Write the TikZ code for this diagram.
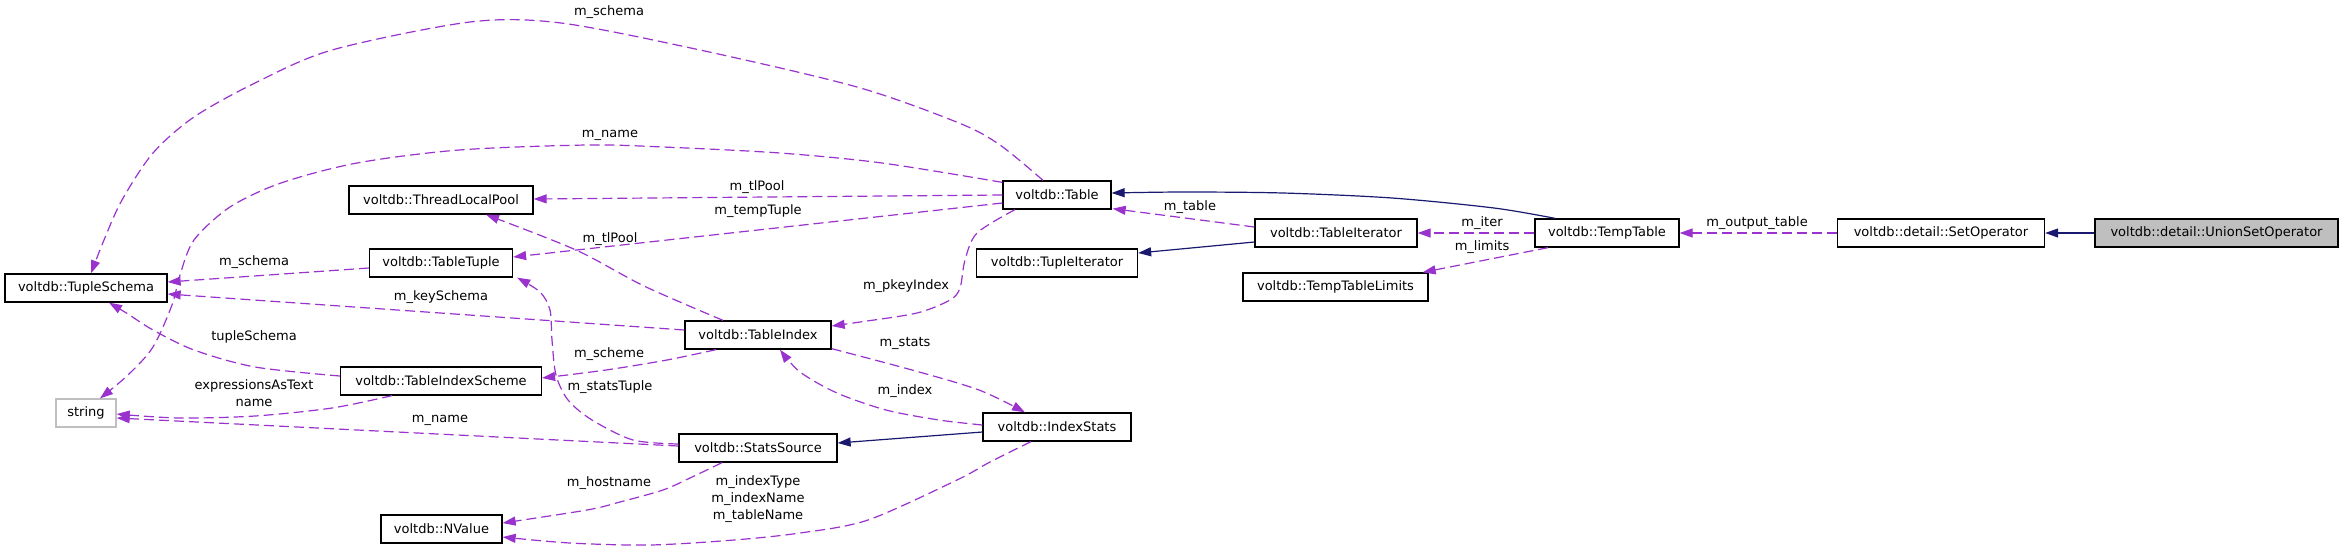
\documentclass[tikz,border=0pt]{standalone}
\usepackage{fontspec}
\setmainfont{DejaVu Sans}
\usetikzlibrary{arrows.meta,calc}
\definecolor{edgepurple}{HTML}{9A32CD}
\definecolor{inhnavy}{HTML}{191970}
\definecolor{selgray}{HTML}{BFBFBF}
\tikzset{
  cls/.style={draw=black, line width=1.3pt, fill=white, minimum height=28pt, inner sep=0pt, font=\fontsize{13}{16}\selectfont},
  usage/.style={draw=edgepurple, line width=1.2pt, dash pattern=on 10pt off 5pt, -{Triangle[length=13pt,width=9pt]}},
  inherit/.style={draw=inhnavy, line width=1.2pt, -{Triangle[length=13pt,width=9pt]}},
  lbl/.style={font=\fontsize{13}{17}\selectfont, align=center, inner sep=0pt, text=black}
}
\begin{document}
\begin{tikzpicture}[x=1pt,y=-1pt]
\fill[white] (0,0) rectangle (2344,550);
\useasboundingbox (0,0) rectangle (2344,550);

% classes
\node[cls, minimum width=162pt] (TupleSchema) at (86,288) {voltdb::TupleSchema};
\node[cls, minimum width=184pt] (ThreadLocalPool) at (441,200) {voltdb::ThreadLocalPool};
\node[cls, minimum width=143pt] (TableTuple) at (441,263) {voltdb::TableTuple};
\node[cls, draw=selgray, minimum width=60pt] (string) at (86,413) {string};
\node[cls, minimum width=201pt] (TableIndexScheme) at (441,381) {voltdb::TableIndexScheme};
\node[cls, minimum width=146pt] (TableIndex) at (758,335) {voltdb::TableIndex};
\node[cls, minimum width=158pt] (StatsSource) at (758,448) {voltdb::StatsSource};
\node[cls, minimum width=148pt] (IndexStats) at (1057,427) {voltdb::IndexStats};
\node[cls, minimum width=121pt] (NValue) at (441.5,529) {voltdb::NValue};
\node[cls, minimum width=108pt] (Table) at (1057,195) {voltdb::Table};
\node[cls, minimum width=161pt] (TupleIterator) at (1057,263) {voltdb::TupleIterator};
\node[cls, minimum width=162pt] (TableIterator) at (1336,233) {voltdb::TableIterator};
\node[cls, minimum width=185pt] (TempTableLimits) at (1335.5,287) {voltdb::TempTableLimits};
\node[cls, minimum width=144pt] (TempTable) at (1607,233) {voltdb::TempTable};
\node[cls, minimum width=207pt] (SetOperator) at (1941,233) {voltdb::detail::SetOperator};
\node[cls, fill=selgray, minimum width=243pt] (UnionSetOperator) at (2216.5,233) {voltdb::detail::UnionSetOperator};

% connector end points
\coordinate (e1s) at ($(Table.north)+(-14,0)$);
\coordinate (e1e) at ($(TupleSchema.north)+(5,0)$);
\coordinate (e2s) at ($(Table.north west)+(0,2)$);
\coordinate (e2e) at ($(string.north)+(14,0)$);
\coordinate (e5s) at ($(TableIndex.north)+(-35,0)$);
\coordinate (e5e) at ($(ThreadLocalPool.south)+(45,0)$);
\coordinate (e8s) at ($(TableIndexScheme.west)+(0,-5)$);
\coordinate (e8e) at ($(TupleSchema.south)+(23,0)$);
\coordinate (e9s) at ($(TableIndex.south)+(-42,0)$);
\coordinate (e9e) at ($(TableIndexScheme.east)+(0,-3)$);
\coordinate (e10s) at ($(TableIndexScheme.south)+(-49,0)$);
\coordinate (e10e) at ($(string.east)+(0,1)$);
\coordinate (e12s) at ($(StatsSource.west)+(0,-4)$);
\coordinate (e12e) at ($(TableTuple.south east)+(4,0)$);
\coordinate (e13s) at ($(StatsSource.south)+(-36,0)$);
\coordinate (e13e) at ($(NValue.east)+(0,-6)$);
\coordinate (e14s) at ($(IndexStats.south)+(-26,0)$);
\coordinate (e14e) at ($(NValue.east)+(0,8)$);
\coordinate (e15s) at ($(TableIndex.south east)+(0,-1)$);
\coordinate (e15e) at ($(IndexStats.north)+(-32,0)$);
\coordinate (e16s) at ($(IndexStats.west)+(0,-2)$);
\coordinate (e16e) at ($(TableIndex.south)+(22,0)$);
\coordinate (e18s) at ($(Table.south)+(-42,0)$);
\coordinate (e18e) at ($(TableIndex.east)+(0,-9)$);
\coordinate (e21s) at ($(TempTable.north)+(-52,0)$);
\coordinate (e21e) at ($(Table.east)+(0,-2)$);

% usage connectors
\draw[usage] plot[smooth] coordinates {(e1s) (1000,145) (959,123) (857,87) (700,50) (561,23) (470,22) (332,50) (255,83) (194,117) (153,153) (122,200) (104,240) (e1e)};
\node[lbl] (l1) at (609,12) {m\_schema};

\draw[usage] plot[smooth] coordinates {(e2s) (882,163) (780,153) (663,147) (587,145) (459,150) (357,163) (281,183) (230,207) (194,240) (180,275) (172,305) (153,347) (128,375) (e2e)};
\node[lbl] (l2) at (610,135) {m\_name};

\draw[usage] (Table.west) -- ($(ThreadLocalPool.east)+(0,-1)$);
\node[lbl] (l3) at (757,187) {m\_tlPool};

\draw[usage] ($(Table.west)+(0,8)$) -- ($(TableTuple.east)+(0,-6)$);
\node[lbl] (l4) at (758,211) {m\_tempTuple};

\draw[usage] plot[smooth] coordinates {(e5s) (644,286) (576,250) (e5e)};
\node[lbl] (l5) at (610,239) {m\_tlPool};

\draw[usage] ($(TableIndex.west)+(0,-5)$) -- ($(TupleSchema.east)+(0,6)$);
\node[lbl] (l6) at (441,297) {m\_keySchema};

\draw[usage] ($(TableTuple.west)+(0,5)$) -- ($(TupleSchema.east)+(0,-6)$);
\node[lbl] (l7) at (254,262) {m\_schema};

\draw[usage] plot[smooth] coordinates {(e8s) (255,367) (194,350) (153,330) (128,314) (e8e)};
\node[lbl] (l8) at (254,337) {tupleSchema};

\draw[usage] plot[smooth] coordinates {(e9s) (667,360) (606,370) (e9e)};
\node[lbl] (l9) at (609,354) {m\_scheme};

\draw[usage] plot[smooth] coordinates {(e10s) (332,408) (255,416) (179,418) (e10e)};
\node[lbl] (l10) at (254,393) {expressionsAsText\\name};

\draw[usage] ($(StatsSource.west)+(0,-2)$) -- ($(string.east)+(0,5)$);
\node[lbl] (l11) at (440,420) {m\_name};

\draw[usage] plot[smooth] coordinates {(e12s) (633,440) (592,420) (568,400) (556,375) (552,340) (550,310) (540,292) (e12e)};
\node[lbl] (l12) at (610,387) {m\_statsTuple};

\draw[usage] plot[smooth] coordinates {(e13s) (690,478) (663,490) (620,502) (587,510) (e13e)};
\node[lbl] (l13) at (609,483) {m\_hostname};

\draw[usage] plot[smooth] coordinates {(e14s) (990,462) (957,480) (868,520) (800,533) (734,540) (650,545) (570,543) (e14e)};
\node[lbl] (l14) at (758,499) {m\_indexType\\m\_indexName\\m\_tableName};

\draw[usage] plot[smooth] coordinates {(e15s) (912,370) (979,390) (e15e)};
\node[lbl] (l15) at (905,343) {m\_stats};

\draw[usage] plot[smooth] coordinates {(e16s) (939,420) (886,410) (837,393) (800,372) (e16e)};
\node[lbl] (l16) at (905,391) {m\_index};

\draw[usage] plot[smooth] coordinates {(e18s) (977,233) (965,260) (960,288) (950,300) (917,313) (860,322) (e18e)};
\node[lbl] (l18) at (906,286) {m\_pkeyIndex};

\draw[usage] ($(TableIterator.west)+(0,-6)$) -- ($(Table.south east)+(1,-1)$);
\node[lbl] (l19) at (1190,207) {m\_table};

\draw[usage] (TempTable.west) -- (TableIterator.east);
\node[lbl] (l22) at (1482,223) {m\_iter};

\draw[usage] ($(TempTable.south)+(-59,0)$) -- ($(TempTableLimits.north east)+(-6,0)$);
\node[lbl] (l23) at (1482,247) {m\_limits};

\draw[usage] (SetOperator.west) -- (TempTable.east);
\node[lbl] (l24) at (1757,223) {m\_output\_table};

% inheritance connectors
\draw[inherit] ($(IndexStats.west)+(0,5)$) -- ($(StatsSource.east)+(0,-5)$);
\draw[inherit] ($(TableIterator.west)+(0,9)$) -- ($(TupleIterator.east)+(0,-10)$);
\draw[inherit] plot[smooth] coordinates {(e21s) (1494,208) (1392,198) (1283,193) (1183,192) (e21e)};
\draw[inherit] (UnionSetOperator.west) -- (SetOperator.east);
\end{tikzpicture}
\end{document}
